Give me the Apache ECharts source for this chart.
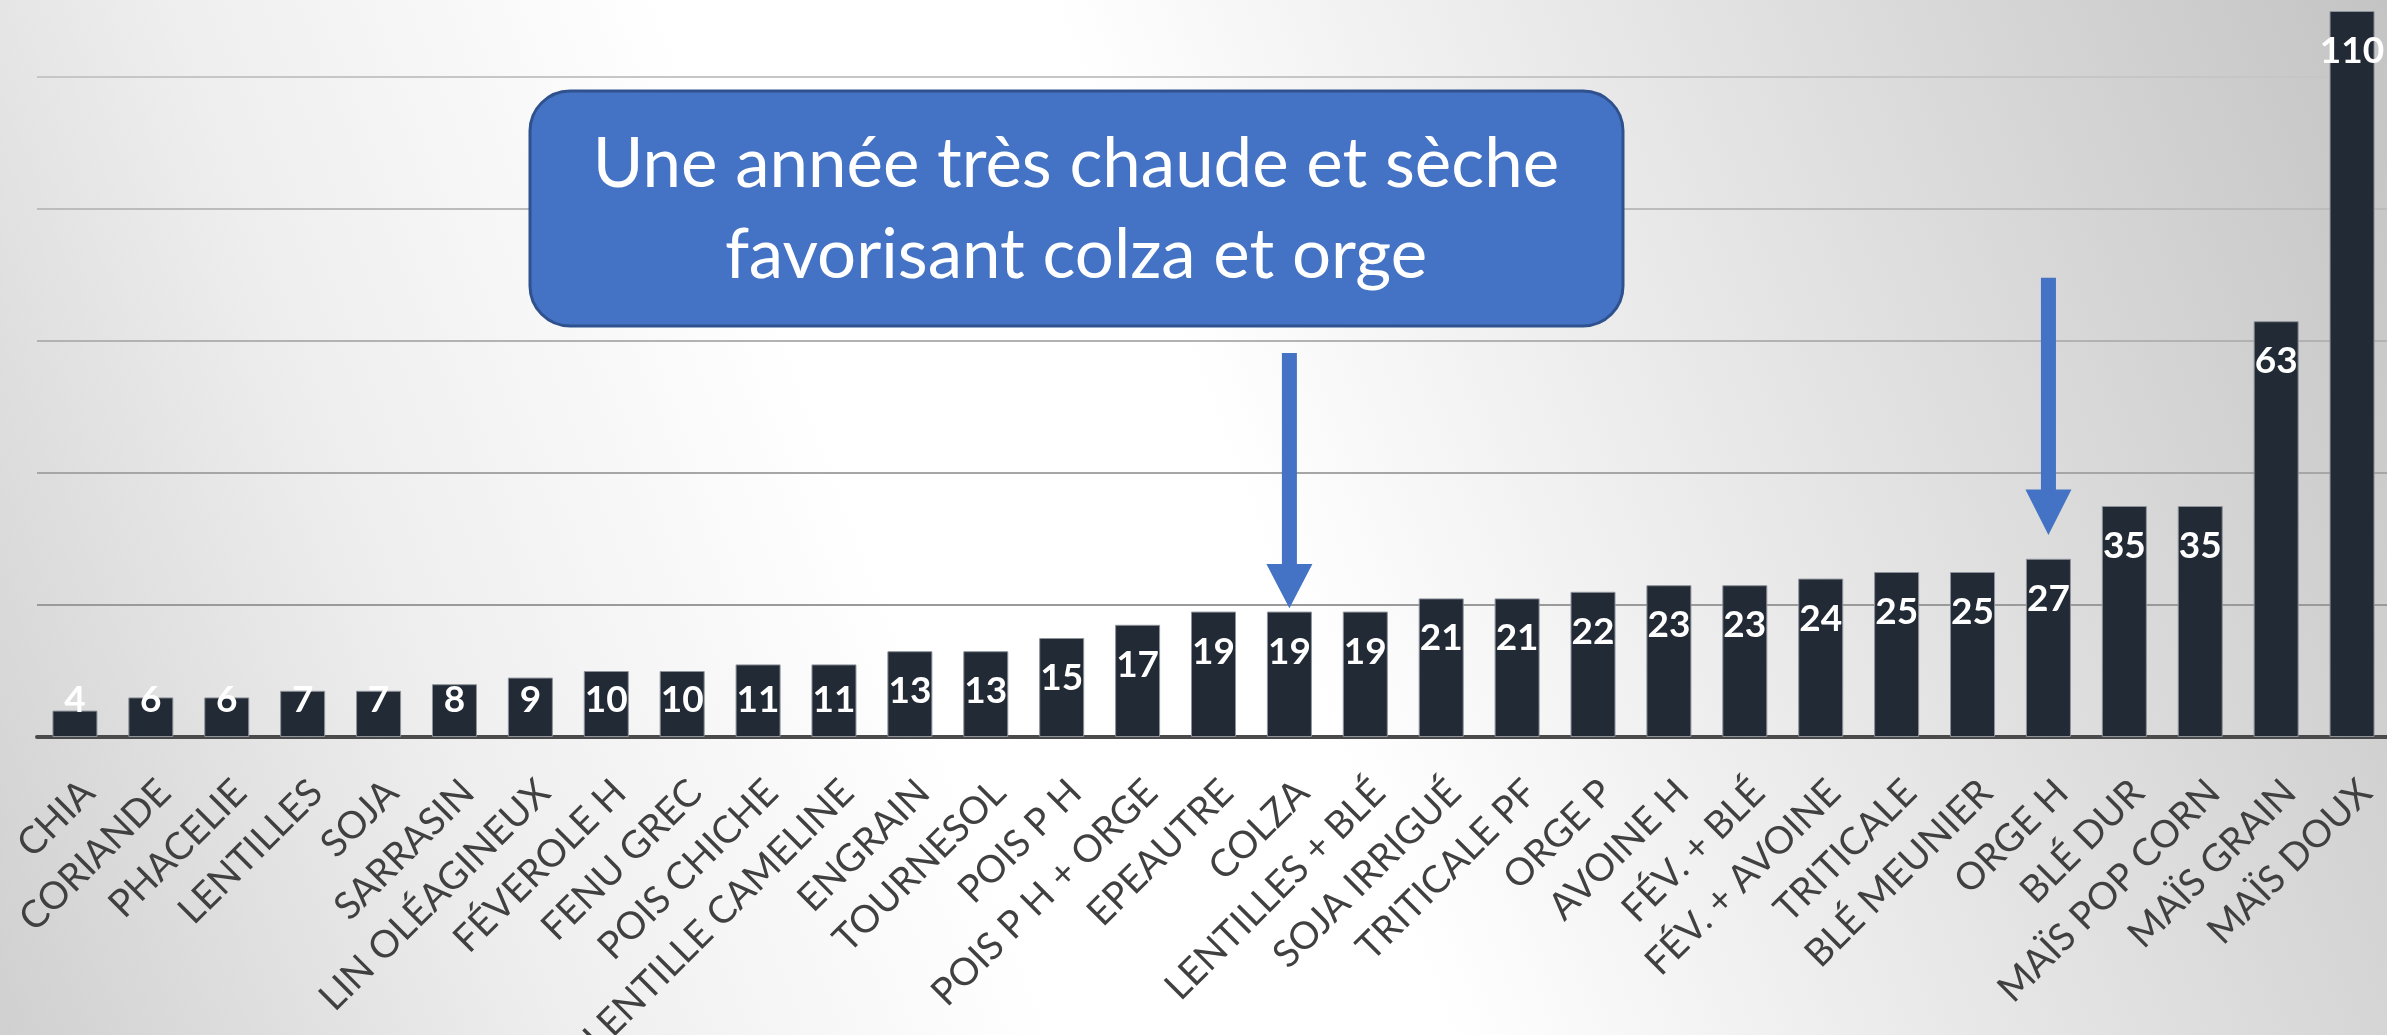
<!DOCTYPE html>
<html>
<head>
<meta charset="utf-8">
<script src="https://cdn.jsdelivr.net/npm/echarts@6/dist/echarts.min.js"></script>
<style>
html,body{margin:0;padding:0;width:2387px;height:1035px;overflow:hidden;
background:linear-gradient(69deg,#d0d0d0 0%,#eeeeee 20%,#ffffff 38%,#ffffff 52%,#e4e4e4 74%,#c4c4c4 100%);}
#chart{width:2387px;height:1035px;}
</style>
</head>
<body>
<div id="chart"></div>
<script>
const categories = ['CHIA','CORIANDE','PHACELIE','LENTILLES','SOJA','SARRASIN','LIN OLÉAGINEUX','FÉVEROLE H','FENU GREC','POIS CHICHE','LENTILLE CAMELINE','ENGRAIN','TOURNESOL','POIS P H','POIS P H + ORGE','EPEAUTRE','COLZA','LENTILLES + BLÉ','SOJA IRRIGUÉ','TRITICALE PF','ORGE P','AVOINE H','FÉV. + BLÉ','FÉV. + AVOINE','TRITICALE','BLÉ MEUNIER','ORGE H','BLÉ DUR','MAÏS POP CORN','MAÏS GRAIN','MAÏS DOUX'];
const values = [4,6,6,7,7,8,9,10,10,11,11,13,13,15,17,19,19,19,21,21,22,23,23,24,25,25,27,35,35,63,110];
const calloutLines = ['Une année très chaude et sèche','favorisant colza et orge'];
// arrows: category, start value (top of shaft), head base value, tip value
const arrowCats = ['COLZA','ORGE H'];
const arrowFrom = [58.2, 69.6];
const arrowHeadBase = [26.2, 37.5];
const arrowTo = [19.5, 30.6];

const chart = echarts.init(document.getElementById('chart'), null, {renderer:'canvas'});
const barData = values.map(v => ({
  value: v,
  label: v < 12 ? {position:'insideBottom', distance:18} : {position:'insideTop', distance:21}
}));
chart.setOption({
  backgroundColor:'transparent',
  animation:false,
  grid:{left:37, right:-3, top:11, bottom:298, containLabel:false, outerBoundsMode:'none'},
  xAxis:{
    type:'category', data:categories,
    axisTick:{show:false},
    axisLine:{lineStyle:{color:'#4a4a4a', width:4}},
    axisLabel:{interval:0, rotate:45, fontFamily:'Lato', fontSize:38, color:'#404040',
      align:'right', verticalAlign:'top', margin:36, hideOverlap:false}
  },
  yAxis:{
    type:'value', min:0, max:110, interval:20,
    axisLabel:{show:false}, axisLine:{show:false}, axisTick:{show:false},
    splitLine:{show:true, showMaxLine:false,
      lineStyle:{width:2, color:['#4a4a4a','#9a9a9a','#a6a6a6','#b2b2b2','#bcbcbc','#c6c6c6']}}
  },
  series:[{
    type:'bar', data:barData, barWidth:45,
    itemStyle:{color:'#222a35', borderColor:'#8e939b', borderWidth:1},
    label:{show:true, color:'#ffffff', fontFamily:'Lato', fontWeight:'bold', fontSize:37, lineHeight:38}
  }]
});

function drawAnnotations(){
  const g = [];
  g.push({
    type:'rect', z:100, shape:{x:530, y:91, width:1093, height:235, r:40},
    style:{fill:'#4472c4', stroke:'#2f528f', lineWidth:3}
  });
  g.push({
    type:'text', z:101, x:1076, y:210,
    style:{text:calloutLines.join('\n'), fill:'#ffffff', font:'69px Lato', lineHeight:91,
      align:'center', verticalAlign:'middle'}
  });
  const shaftW = 15, headW = 46;
  arrowCats.forEach((c,i) => {
    const x = chart.convertToPixel({xAxisIndex:0}, c);
    const y0 = chart.convertToPixel({yAxisIndex:0}, arrowFrom[i]);
    const yb = chart.convertToPixel({yAxisIndex:0}, arrowHeadBase[i]);
    const y1 = chart.convertToPixel({yAxisIndex:0}, arrowTo[i]);
    g.push({
      type:'polygon', z:100,
      shape:{points:[[x-shaftW/2,y0],[x+shaftW/2,y0],[x+shaftW/2,yb],[x+headW/2,yb],[x,y1],[x-headW/2,yb],[x-shaftW/2,yb]]},
      style:{fill:'#4472c4'}
    });
  });
  chart.setOption({graphic:g});
}
drawAnnotations();
</script>
</body>
</html>
